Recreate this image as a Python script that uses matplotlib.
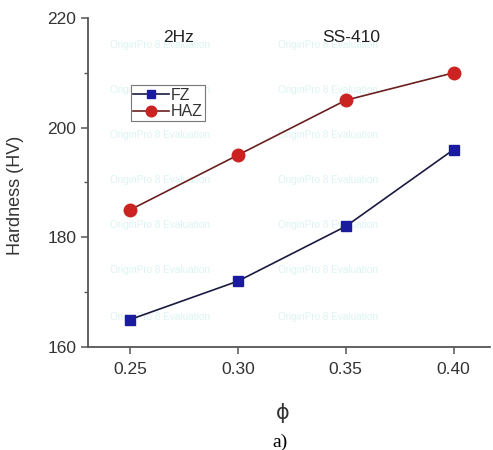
import matplotlib
matplotlib.use('Agg')
import matplotlib.pyplot as plt
from matplotlib.ticker import MultipleLocator

# data
phi = [0.25, 0.30, 0.35, 0.40]
hv_fz = [165, 172, 182, 196]
hv_haz = [185, 195, 205, 210]
xticks = [0.25, 0.30, 0.35, 0.40]
xticklabels = ['0.25', '0.30', '0.35', '0.40']
yticks = [160, 180, 200, 220]
watermark = 'OriginPro 8 Evaluation'
wm_rows = [215.0, 206.9, 198.7, 190.4, 182.2, 174.0, 165.5]
wm_cols = [0.2407, 0.3187]

plt.rcParams['font.family'] = ['Liberation Sans', 'DejaVu Sans']

fig = plt.figure(figsize=(4.93, 4.5), dpi=100)
ax = fig.add_axes([0.1785, 0.229, 0.816, 0.731])

# faint evaluation watermark behind the data
for yw in wm_rows:
    for xw in wm_cols:
        ax.text(xw, yw, watermark, color='#dcf4f2', fontsize=7.2,
                ha='left', va='center', zorder=0)

ax.plot(phi, hv_fz, color='#1a1a40', lw=1.2, marker='s', ms=7.5,
        mfc='#1b1ba0', mec='#1b1ba0', label='FZ', zorder=3)
ax.plot(phi, hv_haz, color='#6a2020', lw=1.2, marker='o', ms=9,
        mfc='#cc2222', mec='#cc2222', label='HAZ', zorder=3)

ax.set_xlim(0.2305, 0.417)
ax.set_ylim(160, 220)
ax.set_xticks(xticks)
ax.set_xticklabels(xticklabels)
ax.set_yticks(yticks)
ax.yaxis.set_minor_locator(MultipleLocator(10))
ax.spines['top'].set_visible(False)
ax.spines['right'].set_visible(False)
for s in ['left', 'bottom']:
    ax.spines[s].set_color('#555555')
    ax.spines[s].set_linewidth(1.3)
ax.tick_params(which='major', direction='out', length=5, width=1.1,
               colors='#555555', labelcolor='#333333', labelsize=12.5)
ax.tick_params(which='minor', direction='out', length=3, width=1.0, colors='#555555')
ax.tick_params(axis='x', pad=6)

ax.set_ylabel('Hardness (HV)', fontsize=13, color='#333333')
ax.yaxis.set_label_coords(-0.159, 0.462)
ax.set_xlabel('ϕ', fontsize=15, color='#333333', family=['DejaVu Sans'])
ax.xaxis.set_label_coords(0.485, -0.17)

ax.text(0.2727, 216.4, '2Hz', fontsize=12.5, color='#222222', ha='center', va='center')
ax.text(0.3526, 216.4, 'SS-410', fontsize=12.5, color='#222222', ha='center', va='center')

leg = ax.legend(loc='upper left', bbox_to_anchor=(0.107, 0.796), fontsize=11.5,
                frameon=True, fancybox=False, framealpha=1, handlelength=2.2,
                borderpad=0.15, labelspacing=0.1, handletextpad=0.15,
                borderaxespad=0, markerscale=0.85)
leg.set_zorder(5)
leg.get_frame().set_edgecolor('#777777')
leg.get_frame().set_linewidth(0.8)
for t in leg.get_texts():
    t.set_color('#333333')

fig.text(0.568, 0.016, 'a)', fontsize=14, family='Liberation Serif',
         ha='center', va='center', color='black')

fig.savefig('out.png', dpi=100)
